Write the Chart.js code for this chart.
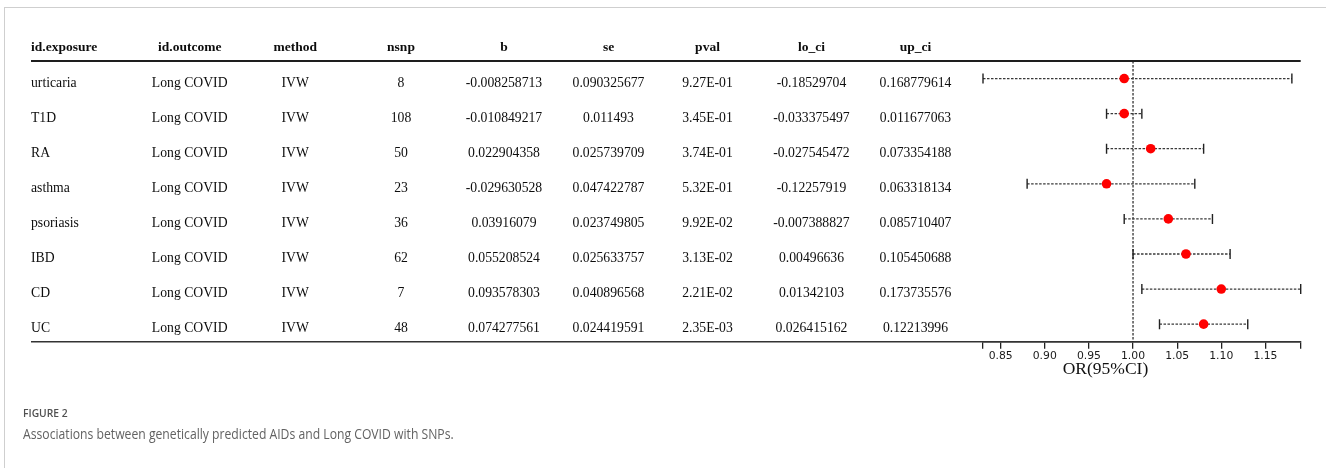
<!DOCTYPE html>
<html>
<head>
<meta charset="utf-8">
<script src="https://cdn.jsdelivr.net/npm/chart.js@4.4.1/dist/chart.umd.min.js"></script>
<style>
  html, body { margin: 0; padding: 0; background: #fff; }
  #wrap { position: relative; width: 1326px; height: 468px; overflow: hidden; }
  #frame { position: absolute; left: 4px; top: 7px; right: -4px; bottom: -4px;
           border-top: 1px solid #cfcfcf; border-left: 1px solid #cfcfcf; }
  #forest { position: absolute; left: 0; top: 0; }
  .cap { position: absolute; left: 23px; white-space: nowrap; transform-origin: 0 0;
         font-family: "Open Sans", "Noto Sans", sans-serif; line-height: 1; }
  #figno { top: 407.5px; font-size: 10.3px; font-weight: 600; color: #505050; }
  #captext { top: 426.5px; font-size: 14.5px; color: #626262; }
</style>
</head>
<body>
<div id="wrap">
  <div id="frame"></div>
  <canvas id="forest" width="1326" height="468"></canvas>
  <div class="cap" id="figno">FIGURE 2</div>
  <div class="cap" id="captext">Associations between genetically predicted AIDs and Long COVID with SNPs.</div>
</div>
<script>
// ---- table columns ----
const headers   = ['id.exposure', 'id.outcome', 'method', 'nsnp', 'b', 'se', 'pval', 'lo_ci', 'up_ci'];
const exposures = ['urticaria', 'T1D', 'RA', 'asthma', 'psoriasis', 'IBD', 'CD', 'UC'];
const outcomes  = ['Long COVID', 'Long COVID', 'Long COVID', 'Long COVID', 'Long COVID', 'Long COVID', 'Long COVID', 'Long COVID'];
const methods   = ['IVW', 'IVW', 'IVW', 'IVW', 'IVW', 'IVW', 'IVW', 'IVW'];
const nsnp      = ['8', '108', '50', '23', '36', '62', '7', '48'];
const bVals     = ['-0.008258713', '-0.010849217', '0.022904358', '-0.029630528', '0.03916079', '0.055208524', '0.093578303', '0.074277561'];
const seVals    = ['0.090325677', '0.011493', '0.025739709', '0.047422787', '0.023749805', '0.025633757', '0.040896568', '0.024419591'];
const pVals     = ['9.27E-01', '3.45E-01', '3.74E-01', '5.32E-01', '9.92E-02', '3.13E-02', '2.21E-02', '2.35E-03'];
const loCi      = ['-0.18529704', '-0.033375497', '-0.027545472', '-0.12257919', '-0.007388827', '0.00496636', '0.01342103', '0.026415162'];
const upCi      = ['0.168779614', '0.011677063', '0.073354188', '0.063318134', '0.085710407', '0.105450688', '0.173735576', '0.12213996'];

// ---- odds ratios with 95% CI (forest panel) ----
const orEst  = [0.99, 0.99, 1.02, 0.97, 1.04, 1.06, 1.10, 1.08];
const orLow  = [0.83, 0.97, 0.97, 0.88, 0.99, 1.00, 1.01, 1.03];
const orHigh = [1.18, 1.01, 1.08, 1.07, 1.09, 1.11, 1.19, 1.13];

// ---- OR axis ----
const axisMin = 0.83;
const axisMax = 1.19;
const tickLabels = [0.85, 0.90, 0.95, 1.00, 1.05, 1.10, 1.15];
const refValue = 1.00;
const axisTitle = 'OR(95%CI)';

// layout of the table columns (x anchors) and fonts
const firstColX = 31;
const colCenters = [189.7, 295.2, 401, 504, 608.5, 707.5, 811.5, 915.5];
const serifFont = '"Liberation Serif", "Times New Roman", serif';

const tablePlugin = {
  id: 'tablePlugin',
  beforeDatasetsDraw(chart) {
    const ctx = chart.ctx;
    const xs = chart.scales.x, ys = chart.scales.y;
    const area = chart.chartArea;
    ctx.save();

    // rules above and below the table
    ctx.strokeStyle = '#1e1e1e';
    ctx.lineWidth = 2;
    ctx.beginPath();
    ctx.moveTo(firstColX, area.top);
    ctx.lineTo(area.right, area.top);
    ctx.stroke();
    ctx.strokeStyle = '#333';
    ctx.lineWidth = 1.6;
    ctx.beginPath();
    ctx.moveTo(firstColX, area.bottom);
    ctx.lineTo(area.right, area.bottom);
    ctx.stroke();

    // reference line at OR = 1
    const xr = xs.getPixelForValue(refValue);
    ctx.strokeStyle = '#222';
    ctx.lineWidth = 1.2;
    ctx.setLineDash([2.5, 1.5]);
    ctx.beginPath();
    ctx.moveTo(xr, area.top);
    ctx.lineTo(xr, area.bottom);
    ctx.stroke();

    // confidence intervals
    for (let i = 0; i < orEst.length; i++) {
      const y = ys.getPixelForValue(i);
      const x1 = xs.getPixelForValue(orLow[i]);
      const x2 = xs.getPixelForValue(orHigh[i]);
      ctx.setLineDash([2.5, 1.5]);
      ctx.strokeStyle = '#3a3a3a';
      ctx.lineWidth = 1.3;
      ctx.beginPath();
      ctx.moveTo(x1, y);
      ctx.lineTo(x2, y);
      ctx.stroke();
      ctx.setLineDash([]);
      ctx.lineWidth = 1.4;
      ctx.strokeStyle = '#222';
      ctx.beginPath();
      ctx.moveTo(x1, y - 5); ctx.lineTo(x1, y + 5);
      ctx.moveTo(x2, y - 5); ctx.lineTo(x2, y + 5);
      ctx.stroke();
    }
    ctx.setLineDash([]);

    // header row
    ctx.fillStyle = '#0d0d0d';
    ctx.textBaseline = 'alphabetic';
    ctx.font = 'bold 13.5px ' + serifFont;
    const headY = area.top - 10.5;
    ctx.textAlign = 'left';
    ctx.fillText(headers[0], firstColX, headY);
    ctx.textAlign = 'center';
    for (let c = 1; c < headers.length; c++) {
      ctx.fillText(headers[c], colCenters[c - 1], headY);
    }

    // body rows
    ctx.font = '13.7px ' + serifFont;
    ctx.fillStyle = '#0d0d0d';
    const cols = [outcomes, methods, nsnp, bVals, seVals, pVals, loCi, upCi];
    for (let i = 0; i < exposures.length; i++) {
      const y = ys.getPixelForValue(i) + 8.2;
      ctx.textAlign = 'left';
      ctx.fillText(exposures[i], firstColX, y);
      ctx.textAlign = 'center';
      cols.forEach((col, c) => ctx.fillText(col[i], colCenters[c], y));
    }

    // axis title
    ctx.font = '17.5px ' + serifFont;
    ctx.fillStyle = '#111';
    ctx.textAlign = 'center';
    ctx.fillText(axisTitle, 1105.5, area.bottom + 32.6);
    ctx.restore();
  }
};

new Chart(document.getElementById('forest'), {
  type: 'scatter',
  data: {
    labels: exposures,
    datasets: [{
      data: exposures.map((e, i) => ({ x: orEst[i], y: e })),
      backgroundColor: '#ff0000',
      borderWidth: 0,
      pointRadius: 4.8,
      pointHoverRadius: 4.8
    }]
  },
  options: {
    responsive: false,
    animation: false,
    devicePixelRatio: 1,
    layout: { padding: { left: 983, right: 25.3, top: 61, bottom: 86.3 } },
    plugins: { legend: { display: false }, tooltip: { enabled: false } },
    scales: {
      y: {
        type: 'category',
        labels: exposures,
        offset: true,
        display: false
      },
      x: {
        type: 'linear',
        position: 'bottom',
        min: axisMin,
        max: axisMax,
        afterBuildTicks(scale) {
          scale.ticks = [axisMin, ...tickLabels, axisMax].map(v => ({ value: v }));
        },
        afterFit(scale) { scale.height = 40; },
        grid: { drawOnChartArea: false, drawTicks: true, tickLength: 7, color: '#222', lineWidth: 1.3 },
        border: { display: true, color: '#333', width: 1.6 },
        ticks: {
          autoSkip: false,
          maxRotation: 0,
          padding: 1,
          color: '#1a1a1a',
          font: { family: '"DejaVu Sans", Verdana, sans-serif', size: 10.8 },
          callback(v) {
            return tickLabels.some(t => Math.abs(t - v) < 1e-9) ? Number(v).toFixed(2) : '';
          }
        }
      }
    }
  },
  plugins: [tablePlugin]
});

// fit the caption line to its column width
const cap = document.getElementById('captext');
const w = cap.getBoundingClientRect().width;
if (w > 0) cap.style.transform = 'scaleX(' + (430.7 / w) + ')';
</script>
</body>
</html>
